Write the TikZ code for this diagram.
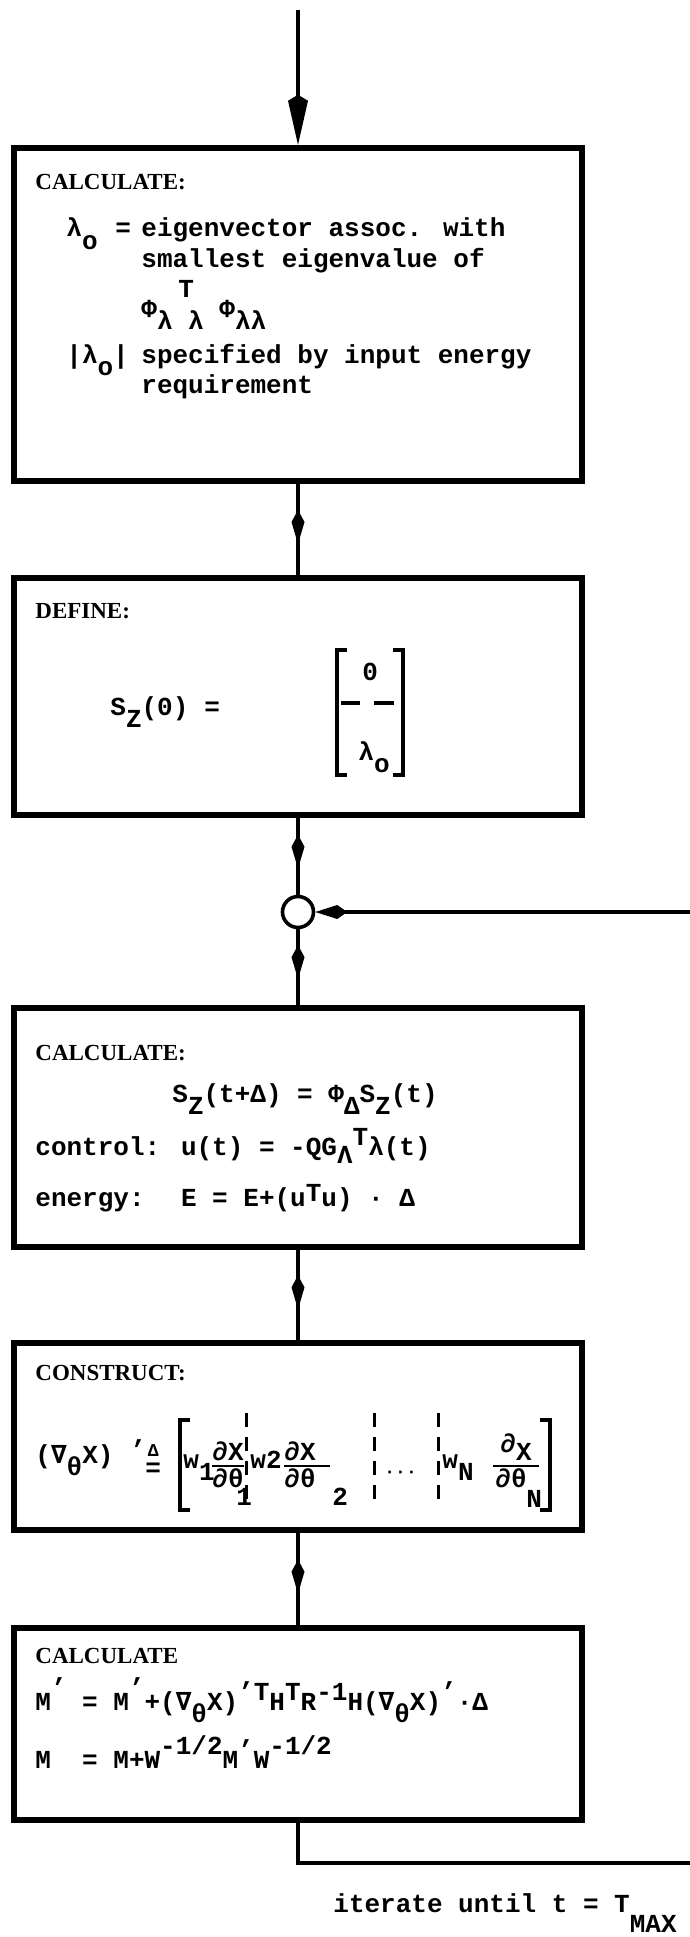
\documentclass[tikz,border=0pt]{standalone}
\usepackage{fontspec}
\setmainfont{Liberation Mono}
\newfontfamily\symfont{DejaVu Sans Mono}
\newfontfamily\headfont{Liberation Serif}
\usetikzlibrary{arrows.meta,decorations.markings,positioning}

% typewriter half-line shifts
\newcommand\lowch[1]{\raisebox{-6pt}{#1}}
\newcommand\highch[1]{\raisebox{5pt}{#1}}
\newcommand\tick{\char"27\relax}
\newcommand\nab{{\symfont\bfseries ∇}}

\tikzset{
  procbox/.style={draw,line width=3.2pt,minimum width=284pt,inner sep=0pt},
  txt/.style={anchor=base west,inner sep=0pt,font=\fontsize{13}{15.5}\selectfont\bfseries},
  headtxt/.style={txt,font=\headfont\fontsize{11.5}{13}\selectfont\bfseries},
  flowline/.style={line width=2.4pt},
  midarrow/.style={flowline,postaction={decorate},
    decoration={markings,mark=at position #1 with {\arrow{Kite[length=17pt,width=6.5pt,inset=6pt]}}}},
  midarrow/.default=0.66,
  brk/.style={line width=1.6pt},
  fracbar/.style={line width=1.3pt},
  colsep/.style={line width=1.5pt,dash pattern=on 7pt off 5pt},
}

\begin{document}
\begin{tikzpicture}[x=0.5pt,y=-0.5pt]
  \useasboundingbox (0,0) rectangle (690,1937);

  % boxes
  \node[procbox,minimum height=166.5pt] (calc1) at (298,314.5) {};
  \node[procbox,minimum height=118.5pt] (define) at (298,696.5) {};
  \node[procbox,minimum height=119.5pt] (calc2) at (298,1127.5) {};
  \node[procbox,minimum height=93.5pt] (construct) at (298,1436.5) {};
  \node[procbox,minimum height=96pt] (calc3) at (298,1724) {};
  \node[draw,circle,line width=1.8pt,minimum size=15.5pt,inner sep=0pt] (sum) at (298,912) {};

  \coordinate (entry) at (298,10);
  \coordinate (loopin) at (690,912);
  \coordinate (loopout) at (690,1863);

  % connectors
  \draw[flowline,-{Kite[length=25pt,width=10pt,inset=3pt]}] (entry) -- (calc1.north);
  \draw[midarrow] (calc1.south) -- (define.north);
  \draw[midarrow] (define.south) -- (sum.north);
  \draw[midarrow] (sum.south) -- (calc2.north);
  \draw[midarrow] (calc2.south) -- (construct.north);
  \draw[midarrow] (construct.south) -- (calc3.north);
  \draw[flowline,-{Kite[length=16pt,width=7pt,inset=5pt]}] (loopin) -- (sum.east);
  \draw[flowline] (calc3.south) |- (loopout);

  % first box
  \node[headtxt] (hd1) at (35,190) {CALCULATE:};
  \node[txt] (lam) at (66,237) {λ\lowch{o}};
  \node[txt] (eq1) at (115,237) {=};
  \node[txt] (eig1) at (141,237) {eigenvector assoc. with};
  \node[txt] (eig2) at (141,268) {smallest eigenvalue of};
  \node[txt] (trT) at (178,297) {T};
  \node[txt] (phis) at (141,317) {Φ\lowch{λ} \lowch{λ} Φ\lowch{λλ}};
  \node[txt] (absl) at (66,363) {|λ\lowch{o}|};
  \node[txt] (spec1) at (141,363) {specified by input energy};
  \node[txt] (spec2) at (141,393) {requirement};

  % second box
  \node[headtxt] (hd2) at (35,618) {DEFINE:};
  \node[txt] (sz0) at (110,715) {S\lowch{Z}(0)};
  \node[txt] (eq2) at (204,715) {=};
  \node[txt] (zero) at (362,680) {0};
  \node[txt] (lamo) at (358,760) {λ\lowch{o}};
  \draw[brk] (347,650) -- (337,650) -- (337,775) -- (347,775);
  \draw[brk] (393,650) -- (403,650) -- (403,775) -- (393,775);
  \draw[brk] (341,703) -- (360,703) (374,703) -- (394,703);

  % third box
  \node[headtxt] (hd3) at (35,1060) {CALCULATE:};
  \node[txt] (prop) at (172,1102) {S\lowch{Z}(t+Δ) = Φ\lowch{Δ}S\lowch{Z}(t)};
  \node[txt] (ctrl) at (35,1155) {control: u(t) = -QG\raisebox{-4pt}{Λ}\highch{T}λ(t)};
  \node[txt] (enrg) at (35,1206) {energy:~ E = E+(u\raisebox{2.5pt}{T}u) · Δ};

  % fourth box
  \node[headtxt] (hd4) at (35,1380) {CONSTRUCT:};
  \node[txt] (grad) at (35,1463) {(\nab\lowch{θ}X)};
  \node[txt] (prime) at (130,1458) {\tick};
  \node[txt] (defeq) at (145,1476) {\shortstack{\fontsize{9}{9}\selectfont Δ\\=}};
  \draw[brk] (190,1420) -- (180,1420) -- (180,1510) -- (190,1510);
  \draw[brk] (540,1420) -- (550,1420) -- (550,1510) -- (540,1510);
  \node[txt] (w1) at (183,1468) {w\lowch{1}};
  \node[txt] (n1) at (212,1460) {∂X};
  \draw[fracbar] (212,1466) -- (244,1466);
  \node[txt] (d1) at (212,1487) {∂θ};
  \node[txt] (s1) at (236,1505) {1};
  \draw[colsep] (246,1413) -- (246,1507);
  \node[txt] (w2) at (250,1468) {w2};
  \node[txt] (n2) at (284,1460) {∂X};
  \draw[fracbar] (284,1466) -- (330,1466);
  \node[txt] (d2) at (284,1487) {∂θ};
  \node[txt] (s2) at (332,1505) {2};
  \draw[colsep] (374,1413) -- (374,1507);
  \node[txt,font=\fontsize{9}{9}\selectfont\bfseries] (dots) at (384,1477) {···};
  \draw[colsep] (438,1413) -- (438,1507);
  \node[txt] (wn) at (442,1468) {w\lowch{N}};
  \node[txt] (nn) at (500,1460) {\raisebox{4pt}{∂}X};
  \draw[fracbar] (493,1466) -- (539,1466);
  \node[txt] (dn) at (495,1487) {∂θ};
  \node[txt] (sn) at (526,1507) {N};

  % fifth box
  \node[headtxt] (hd5) at (35,1663) {CALCULATE};
  \node[txt] (mupd) at (35,1710) {M\raisebox{7pt}{\tick} = M\raisebox{7pt}{\tick}+(\nab\lowch{θ}X)\highch{\tick T}H\highch{T}R\highch{-1}H(\nab\lowch{θ}X)\highch{\tick}·Δ};
  \node[txt] (mnew) at (35,1768) {M~ = M+W\raisebox{7pt}{-1/2}M\highch{\tick}W\raisebox{7pt}{-1/2}};

  \node[txt] (iter) at (333,1912) {iterate until t = T\raisebox{-10pt}{MAX}};
\end{tikzpicture}
\end{document}
